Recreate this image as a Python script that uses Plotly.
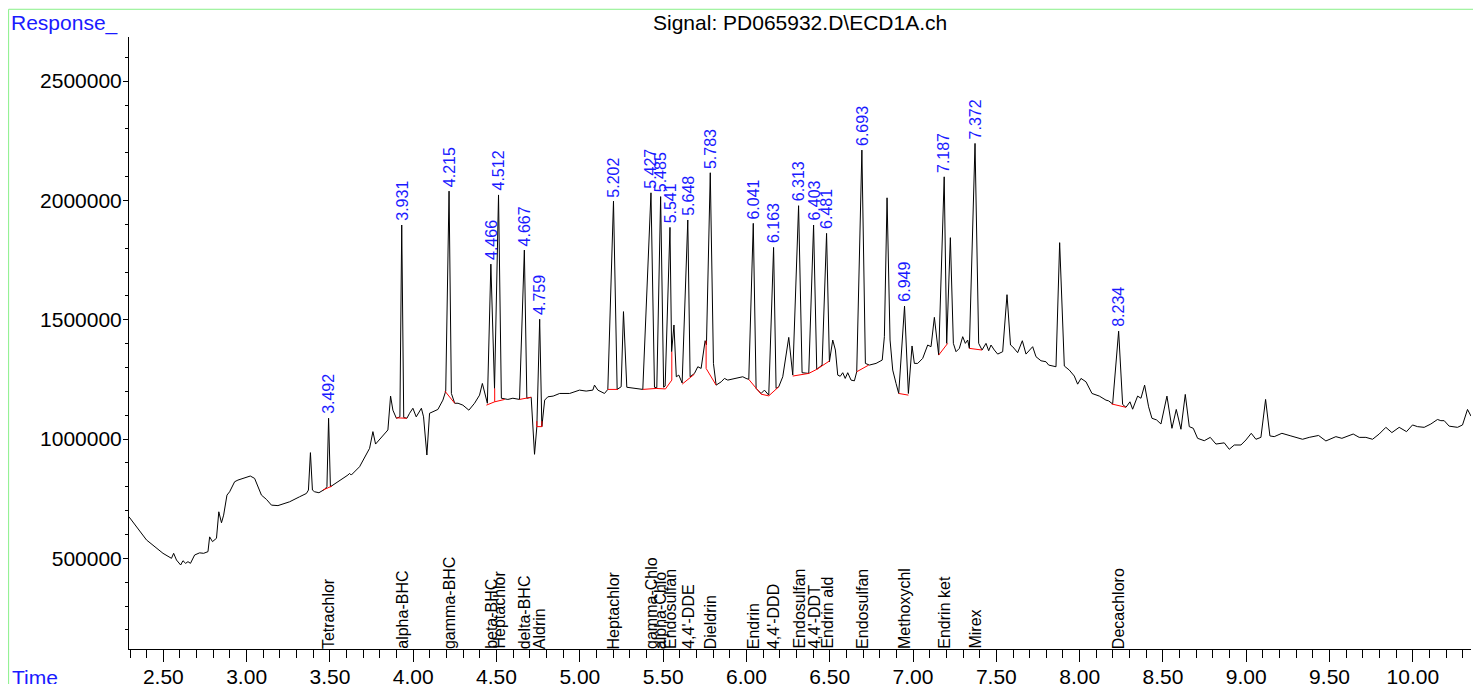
import plotly.graph_objects as go

# ---------------- data ----------------
time_min = [
    2.294, 2.399, 2.498, 2.549, 2.562, 2.579, 2.604, 2.618, 2.634, 2.648, 2.663, 2.688, 2.718, 2.742, 2.768,
    2.778, 2.795, 2.819, 2.833, 2.849, 2.862, 2.882, 2.898, 2.928, 2.948, 2.999, 3.022, 3.048, 3.089, 3.119,
    3.149, 3.188, 3.258, 3.318, 3.359, 3.371, 3.383, 3.395, 3.408, 3.434, 3.468, 3.482, 3.492, 3.503, 3.558,
    3.608, 3.618, 3.628, 3.678, 3.738, 3.758, 3.774, 3.848, 3.864, 3.878, 3.899, 3.920, 3.931, 3.943, 3.962,
    3.978, 3.998, 4.018, 4.049, 4.062, 4.082, 4.098, 4.118, 4.148, 4.178, 4.195, 4.215, 4.229, 4.249, 4.269,
    4.298, 4.334, 4.368, 4.398, 4.415, 4.428, 4.445, 4.466, 4.488, 4.512, 4.529, 4.568, 4.598, 4.638, 4.667,
    4.682, 4.708, 4.728, 4.742, 4.759, 4.772, 4.789, 4.808, 4.840, 4.879, 4.939, 4.998, 5.038, 5.078, 5.088,
    5.108, 5.148, 5.168, 5.202, 5.224, 5.248, 5.262, 5.282, 5.328, 5.378, 5.427, 5.448, 5.462, 5.485, 5.503,
    5.512, 5.541, 5.551, 5.565, 5.579, 5.594, 5.608, 5.614, 5.648, 5.662, 5.688, 5.708, 5.728, 5.752, 5.760,
    5.783, 5.802, 5.818, 5.849, 5.868, 5.888, 5.928, 5.978, 5.998, 6.014, 6.041, 6.058, 6.088, 6.108, 6.134,
    6.163, 6.178, 6.194, 6.218, 6.254, 6.278, 6.313, 6.334, 6.374, 6.403, 6.422, 6.454, 6.481, 6.498, 6.518,
    6.534, 6.548, 6.563, 6.578, 6.593, 6.608, 6.628, 6.648, 6.662, 6.693, 6.714, 6.738, 6.778, 6.815, 6.828,
    6.844, 6.862, 6.878, 6.898, 6.914, 6.949, 6.972, 6.994, 7.008, 7.028, 7.058, 7.088, 7.108, 7.128, 7.142,
    7.154, 7.187, 7.202, 7.224, 7.242, 7.258, 7.278, 7.298, 7.314, 7.328, 7.338, 7.372, 7.394, 7.414, 7.438,
    7.454, 7.468, 7.488, 7.508, 7.538, 7.564, 7.585, 7.598, 7.628, 7.656, 7.678, 7.718, 7.738, 7.768, 7.798,
    7.814, 7.858, 7.880, 7.908, 7.938, 7.968, 7.988, 8.008, 8.038, 8.074, 8.118, 8.158, 8.174, 8.198, 8.234,
    8.258, 8.278, 8.302, 8.318, 8.348, 8.368, 8.390, 8.414, 8.434, 8.462, 8.488, 8.524, 8.554, 8.580, 8.608,
    8.634, 8.658, 8.682, 8.708, 8.748, 8.784, 8.818, 8.868, 8.898, 8.928, 8.968, 8.998, 9.030, 9.058, 9.088,
    9.116, 9.142, 9.168, 9.214, 9.268, 9.338, 9.378, 9.434, 9.478, 9.538, 9.574, 9.642, 9.678, 9.718, 9.758,
    9.798, 9.838, 9.874, 9.918, 9.962, 9.998, 10.028, 10.068, 10.108, 10.148, 10.168, 10.188, 10.218, 10.268,
    10.298, 10.328, 10.349,
]

response = [
    674000, 577000, 521000, 500000, 521000, 493000, 472000, 490000, 479000, 486000, 479000, 514000, 523000, 521000, 528000,
    590000, 570000, 584000, 695000, 649000, 681000, 765000, 779000, 821000, 828000, 839000, 845000, 835000, 765000, 747000,
    723000, 721000, 737000, 758000, 772000, 786000, 943000, 786000, 779000, 775000, 789000, 800000, 1087000, 800000, 825000,
    849000, 856000, 849000, 884000, 961000, 1031000, 979000, 1038000, 1180000, 1121000, 1087000, 1093000, 1897000, 1090000, 1087000,
    1108000, 1129000, 1093000, 1129000, 1093000, 933000, 1108000, 1115000, 1124000, 1163000, 1201000, 2039000, 1191000, 1150000, 1150000,
    1142000, 1121000, 1150000, 1184000, 1233000, 1191000, 1150000, 1733000, 1212000, 2023000, 1171000, 1166000, 1171000, 1166000, 1792000,
    1171000, 1175000, 936000, 1052000, 1502000, 1052000, 1163000, 1177000, 1180000, 1191000, 1191000, 1205000, 1201000, 1205000, 1226000,
    1205000, 1191000, 1208000, 1997000, 1208000, 1219000, 1534000, 1217000, 1212000, 1208000, 2032000, 1217000, 1215000, 2016000, 1217000,
    1222000, 1887000, 1366000, 1478000, 1261000, 1268000, 1247000, 1235000, 1918000, 1261000, 1275000, 1303000, 1296000, 1412000, 1395000,
    2116000, 1317000, 1226000, 1240000, 1254000, 1247000, 1254000, 1261000, 1254000, 1250000, 1904000, 1212000, 1191000, 1205000, 1184000,
    1803000, 1212000, 1219000, 1261000, 1426000, 1268000, 1978000, 1278000, 1275000, 1897000, 1292000, 1310000, 1862000, 1324000, 1415000,
    1373000, 1268000, 1263000, 1278000, 1254000, 1278000, 1247000, 1244000, 1282000, 2211000, 1317000, 1310000, 1317000, 1331000, 1429000,
    2011000, 1415000, 1289000, 1233000, 1191000, 1557000, 1191000, 1390000, 1317000, 1317000, 1338000, 1394000, 1387000, 1510000, 1415000,
    1352000, 2099000, 1401000, 1844000, 1401000, 1366000, 1380000, 1429000, 1401000, 1415000, 1380000, 2239000, 1401000, 1373000, 1401000,
    1370000, 1394000, 1373000, 1356000, 1366000, 1605000, 1394000, 1387000, 1362000, 1412000, 1356000, 1387000, 1345000, 1328000, 1324000,
    1310000, 1303000, 1823000, 1306000, 1289000, 1264000, 1230000, 1254000, 1240000, 1191000, 1180000, 1163000, 1160000, 1147000, 1452000,
    1145000, 1133000, 1156000, 1125000, 1180000, 1171000, 1226000, 1135000, 1087000, 1080000, 1063000, 1180000, 1045000, 1124000, 1041000,
    1187000, 1052000, 1045000, 1003000, 993000, 1007000, 979000, 984000, 957000, 975000, 975000, 996000, 1024000, 999000, 1007000,
    1166000, 1013000, 1010000, 1024000, 1013000, 999000, 1007000, 1015000, 992000, 1010000, 1003000, 1021000, 1007000, 1007000, 999000,
    1021000, 1049000, 1027000, 1049000, 1031000, 1059000, 1052000, 1049000, 1063000, 1082000, 1077000, 1077000, 1054000, 1049000,
    1059000, 1124000, 1096000,
]

# integrated peaks: retention time label and compound name
peak_rt = [3.492, 3.931, 4.215, 4.466, 4.512, 4.667, 4.759, 5.202, 5.427, 5.485, 5.541, 5.648,
           5.783, 6.041, 6.163, 6.313, 6.403, 6.481, 6.693, 6.949, 7.187, 7.372, 8.234]
compound = ["Tetrachlor", "alpha-BHC", "gamma-BHC", "beta-BHC", "Heptachlor", "delta-BHC", "Aldrin",
            "Heptachlor", "gamma-Chlo", "alpha-Chlo", "Endosulfan", "4,4'-DDE", "Dieldrin", "Endrin",
            "4,4'-DDD", "Endosulfan", "4,4'-DDT", "Endrin ald", "Endosulfan", "Methoxychl", "Endrin ket",
            "Mirex", "Decachloro"]

# integration baselines (red), each a polyline of (time, response)
baseline_t = [
    [3.458, 3.512], [3.898, 3.962], [4.190, 4.249], [4.439, 4.489, 4.549], [4.489, 4.489],
    [4.638, 4.708], [4.742, 4.742, 4.772, 4.772], [5.168, 5.228], [5.378, 5.458, 5.514, 5.552],
    [5.552, 5.552], [5.614, 5.688], [5.758, 5.758, 5.818], [6.014, 6.088, 6.134, 6.194],
    [6.278, 6.374, 6.422, 6.498], [6.662, 6.734], [6.914, 6.972], [7.154, 7.208], [7.338, 7.414],
    [8.192, 8.278],
]
baseline_r = [
    [786000, 803000], [1089000, 1087000], [1201000, 1150000], [1142000, 1156000, 1166000], [1212000, 1156000],
    [1166000, 1175000], [1075000, 1052000, 1052000, 1075000], [1208000, 1208000], [1208000, 1212000, 1210000, 1247000],
    [1366000, 1247000], [1230000, 1272000], [1412000, 1296000, 1226000], [1250000, 1188000, 1181000, 1219000],
    [1264000, 1275000, 1292000, 1327000], [1282000, 1310000], [1191000, 1184000], [1352000, 1401000], [1380000, 1373000],
    [1147000, 1133000],
]

title_text = "Signal: PD065932.D\\ECD1A.ch"

# ---------------- figure ----------------
FONT = "Arial, Liberation Sans, sans-serif"
fig = go.Figure()

fig.add_trace(go.Scatter(x=time_min, y=response, mode="lines",
                         line=dict(color="black", width=1), hoverinfo="skip", showlegend=False))

bx, by = [], []
for ts, rs in zip(baseline_t, baseline_r):
    bx += ts + [None]
    by += rs + [None]
fig.add_trace(go.Scatter(x=bx, y=by, mode="lines", line=dict(color="red", width=1),
                         hoverinfo="skip", showlegend=False))

lookup = dict(zip(time_min, response))
annotations = []
for rt, name in zip(peak_rt, compound):
    annotations.append(dict(x=rt, y=lookup[rt], xref="x", yref="y", text=f"{rt:.3f}",
                            textangle=-90, showarrow=False, xanchor="center", yanchor="bottom",
                            yshift=2, font=dict(family=FONT, size=16, color="#1a1aff")))
    annotations.append(dict(x=rt, y=0, xref="x", yref="paper", text=name,
                            textangle=-90, showarrow=False, xanchor="center", yanchor="bottom",
                            yshift=-2, font=dict(family=FONT, size=16, color="black")))

annotations.append(dict(x=-0.0892, y=1.0229, xref="paper", yref="paper", text="Response_",
                        showarrow=False, xanchor="left", yanchor="middle",
                        font=dict(family=FONT, size=21, color="#1a1aff")))
annotations.append(dict(x=0.5, y=1.0229, xref="paper", yref="paper", text=title_text,
                        showarrow=False, xanchor="center", yanchor="middle",
                        font=dict(family=FONT, size=21, color="black")))
annotations.append(dict(x=-0.0887, y=-0.0465, xref="paper", yref="paper", text="Time",
                        showarrow=False, xanchor="left", yanchor="middle",
                        font=dict(family=FONT, size=21, color="#1a1aff")))

shapes = [
    dict(type="line", xref="paper", yref="paper", x0=-0.0897, x1=1.2, y0=1.0453, y1=1.0453,
         line=dict(color="#88f088", width=1)),
    dict(type="line", xref="paper", yref="paper", x0=-0.0897, x1=-0.0897, y0=1.0453, y1=-0.3,
         line=dict(color="#88f088", width=1)),
]

fig.update_layout(
    width=1473, height=684,
    autosize=False,
    margin=dict(l=129, r=2, t=37, b=35, pad=0, autoexpand=False),
    paper_bgcolor="white", plot_bgcolor="white",
    showlegend=False,
    annotations=annotations,
    shapes=shapes,
    font=dict(family=FONT, size=21, color="black"),
    xaxis=dict(range=[2.294, 10.349], showgrid=False, zeroline=False, showline=True, automargin=False,
               linecolor="black", linewidth=1, ticks="outside", ticklen=12, tickwidth=1,
               tickcolor="black", tick0=0, dtick=0.5, tickformat=".2f", ticklabelstandoff=-3,
               tickfont=dict(family=FONT, size=21, color="black"),
               minor=dict(dtick=0.1, ticklen=8, tickwidth=1, tickcolor="black", ticks="outside", showgrid=False)),
    yaxis=dict(range=[120000, 2685000], showgrid=False, zeroline=False, showline=True, automargin=False,
               linecolor="black", linewidth=1, ticks="outside", ticklen=5, tickwidth=1,
               tickcolor="black", tick0=0, dtick=500000, tickformat="d", ticklabelstandoff=-3,
               tickfont=dict(family=FONT, size=21, color="black"),
               minor=dict(dtick=100000, ticklen=3, tickwidth=1, tickcolor="black", ticks="outside", showgrid=False)),
)

fig.write_html("out.html", config={"displayModeBar": False, "staticPlot": True},
               post_script="document.body.style.margin='0';document.body.style.overflow='hidden';")
